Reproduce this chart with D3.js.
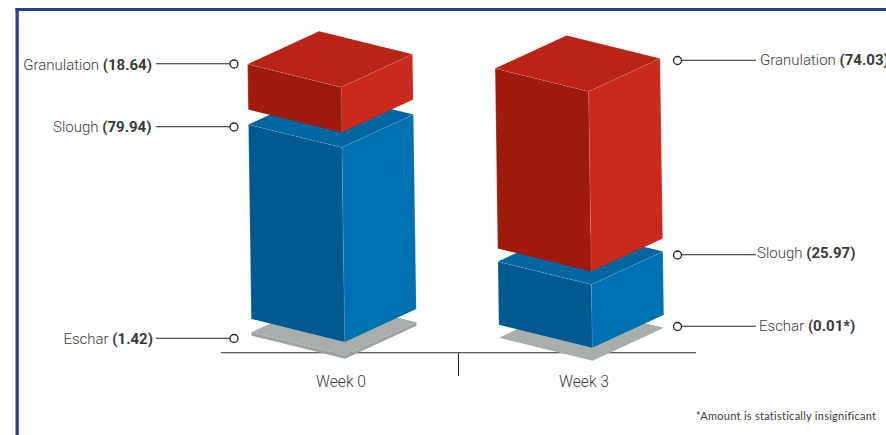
<!DOCTYPE html>
<html>
<head>
<meta charset="utf-8">
<script src="https://cdn.jsdelivr.net/npm/d3@7/dist/d3.min.js"></script>
<style>
  html, body { margin: 0; padding: 0; background: #fff; overflow: hidden; }
  svg { display: block; }
  text { font-family: Roboto, "Liberation Sans", sans-serif; font-weight: 300; fill: #3a3a3a; }
  .val { font-weight: 700; }
</style>
</head>
<body>
<svg id="chart" width="886" height="435"></svg>
<script>
// Wound-bed tissue composition (%) at each visit
const weeks = ["Week 0", "Week 3"];
const tissues = ["Eschar", "Slough", "Granulation"];
const eschar = [1.42, 0.01];
const slough = [79.94, 25.97];
const granulation = [18.64, 74.03];
const valueLabels = [
  ["1.42", "79.94", "18.64"],
  ["0.01*", "25.97", "74.03"]
];
const footnote = "*Amount is statistically insignificant";

const W = 886, H = 435;
const svg = d3.select("#chart").attr("viewBox", [0, 0, W, H]);

// Isometric projection settings
const xWeek = d3.scalePoint().domain(weeks).range([345, 592.5]);
const height = d3.scaleLinear().domain([0, 100]).range([0, 243.2]);
const baseY = { "Week 0": 358.7, "Week 3": 360.7 };
const gaps = { "Week 0": [13.3, 15], "Week 3": [13, 13] };
const weekLabelShift = { "Week 0": -4, "Week 3": -8.5 };
const leftEdge = [-93.5, -23], rightEdge = [71.5, -33];
const lean = 0.0145;

const palette = {
  Eschar:      { top: "#a8afab", left: "#9ea5a1", right: "#9ea5a1" },
  Slough:      { top: "#0066a1", left: "#005a8f", right: "#0071b1" },
  Granulation: { top: "#b92417", left: "#9e1a0c", right: "#ca2a1c" }
};
const series = { Eschar: eschar, Slough: slough, Granulation: granulation };

// Frame along the top and left
svg.append("rect").attr("x", 15.5).attr("y", 8).attr("width", W).attr("height", 3).attr("fill", "#27408f");
svg.append("rect").attr("x", 15.5).attr("y", 8).attr("width", 3.3).attr("height", H).attr("fill", "#27408f");

// Baseline with the divider between the two visits
svg.append("line").attr("x1", 221).attr("x2", 696).attr("y1", 352.8).attr("y2", 352.8)
  .attr("stroke", "#2a2a2a").attr("stroke-width", 1.1);
svg.append("line").attr("x1", 458.5).attr("x2", 458.5).attr("y1", 352.8).attr("y2", 376)
  .attr("stroke", "#2a2a2a").attr("stroke-width", 1.1);

svg.selectAll(".week").data(weeks).join("text")
  .attr("class", "week")
  .attr("x", d => xWeek(d) + weekLabelShift[d])
  .attr("y", 387)
  .attr("text-anchor", "middle")
  .attr("font-size", 15.6)
  .text(d => d);

const poly = pts => d3.line()(pts) + "Z";

// Draw one projected block; front is the nearest bottom corner
function block(g, week, tissue, value, bottomY) {
  const h = height(value);
  const fx = y => xWeek(week) - (baseY[week] - y) * lean;
  const topY = bottomY - h;
  const bf = [fx(bottomY), bottomY], tf = [fx(topY), topY];
  const add = (p, v) => [p[0] + v[0], p[1] + v[1]];
  const tl = add(tf, leftEdge), tr = add(tf, rightEdge);
  const bl = add(bf, leftEdge), br = add(bf, rightEdge);
  const back = add(tl, rightEdge);
  const c = palette[tissue];

  g.append("path").attr("d", poly([bl, bf, tf, tl])).attr("fill", c.left);
  g.append("path").attr("d", poly([bf, br, tr, tf])).attr("fill", c.right);
  g.append("path").attr("d", poly([tl, tf, tr, back])).attr("fill", c.top);

  if (h > 5) {
    // Pale highlights on the box edges
    g.append("path").attr("d", d3.line()([tl, tf, tr]))
      .attr("fill", "none").attr("stroke", "rgba(255,255,255,0.32)")
      .attr("stroke-width", 0.6).attr("stroke-dasharray", "2 1.5");
    g.append("path").attr("d", d3.line()([tf, bf]))
      .attr("fill", "none").attr("stroke", "rgba(255,255,255,0.18)").attr("stroke-width", 0.7);
    g.append("path").attr("d", d3.line()([tr, br]))
      .attr("fill", "none").attr("stroke", "rgba(255,255,255,0.3)").attr("stroke-width", 0.7);
    g.append("path").attr("d", d3.line()([tl, bl]))
      .attr("fill", "none").attr("stroke", "rgba(255,255,255,0.3)").attr("stroke-width", 0.7);
  }
  return topY;
}

weeks.forEach((week, i) => {
  const g = svg.append("g").attr("class", "stack");
  let y = baseY[week];
  tissues.forEach((tissue, j) => {
    const top = block(g, week, tissue, series[tissue][i], y);
    y = top - (gaps[week][j] || 0);
  });
});

// Callouts: left side for the first visit, right side for the second
const calloutRows = {
  "Week 0": { Granulation: 64, Slough: 127, Eschar: 338.5 },
  "Week 3": { Granulation: 60.5, Slough: 255, Eschar: 326.5 }
};
const textRows = {
  "Week 0": { Granulation: 70, Slough: 132.4, Eschar: 344.3 },
  "Week 3": { Granulation: 65.4, Slough: 258.4, Eschar: 331 }
};
const textStart3 = { Granulation: 760, Slough: 757, Eschar: 759 };
const textEnd0 = { Granulation: 152, Slough: 151.5, Eschar: 153 };

weeks.forEach((week, i) => {
  tissues.forEach((tissue, j) => {
    const y = calloutRows[week][tissue];
    const isLeft = i === 0;
    const cx = isLeft ? 234 : 677.5;
    svg.append("line")
      .attr("x1", isLeft ? 156 : 681).attr("x2", isLeft ? 230 : 756)
      .attr("y1", y - 0.3).attr("y2", y - 0.3)
      .attr("stroke", "#222").attr("stroke-width", 1.1);
    svg.append("circle").attr("cx", cx).attr("cy", y).attr("r", 4)
      .attr("fill", "#fff").attr("stroke", "#222").attr("stroke-width", 1.3);
    const t = svg.append("text")
      .attr("x", isLeft ? textEnd0[tissue] : textStart3[tissue])
      .attr("y", textRows[week][tissue])
      .attr("text-anchor", isLeft ? "end" : "start")
      .attr("font-size", 15);
    t.append("tspan").text(tissue + " ");
    t.append("tspan").attr("class", "val").text("(" + valueLabels[i][j] + ")");
  });
});

svg.append("text")
  .attr("x", 696).attr("y", 420)
  .attr("font-size", 11)
  .style("font-family", "Lato, sans-serif")
  .style("font-weight", 400)
  .style("letter-spacing", "0.27px")
  .text(footnote);
</script>
</body>
</html>
